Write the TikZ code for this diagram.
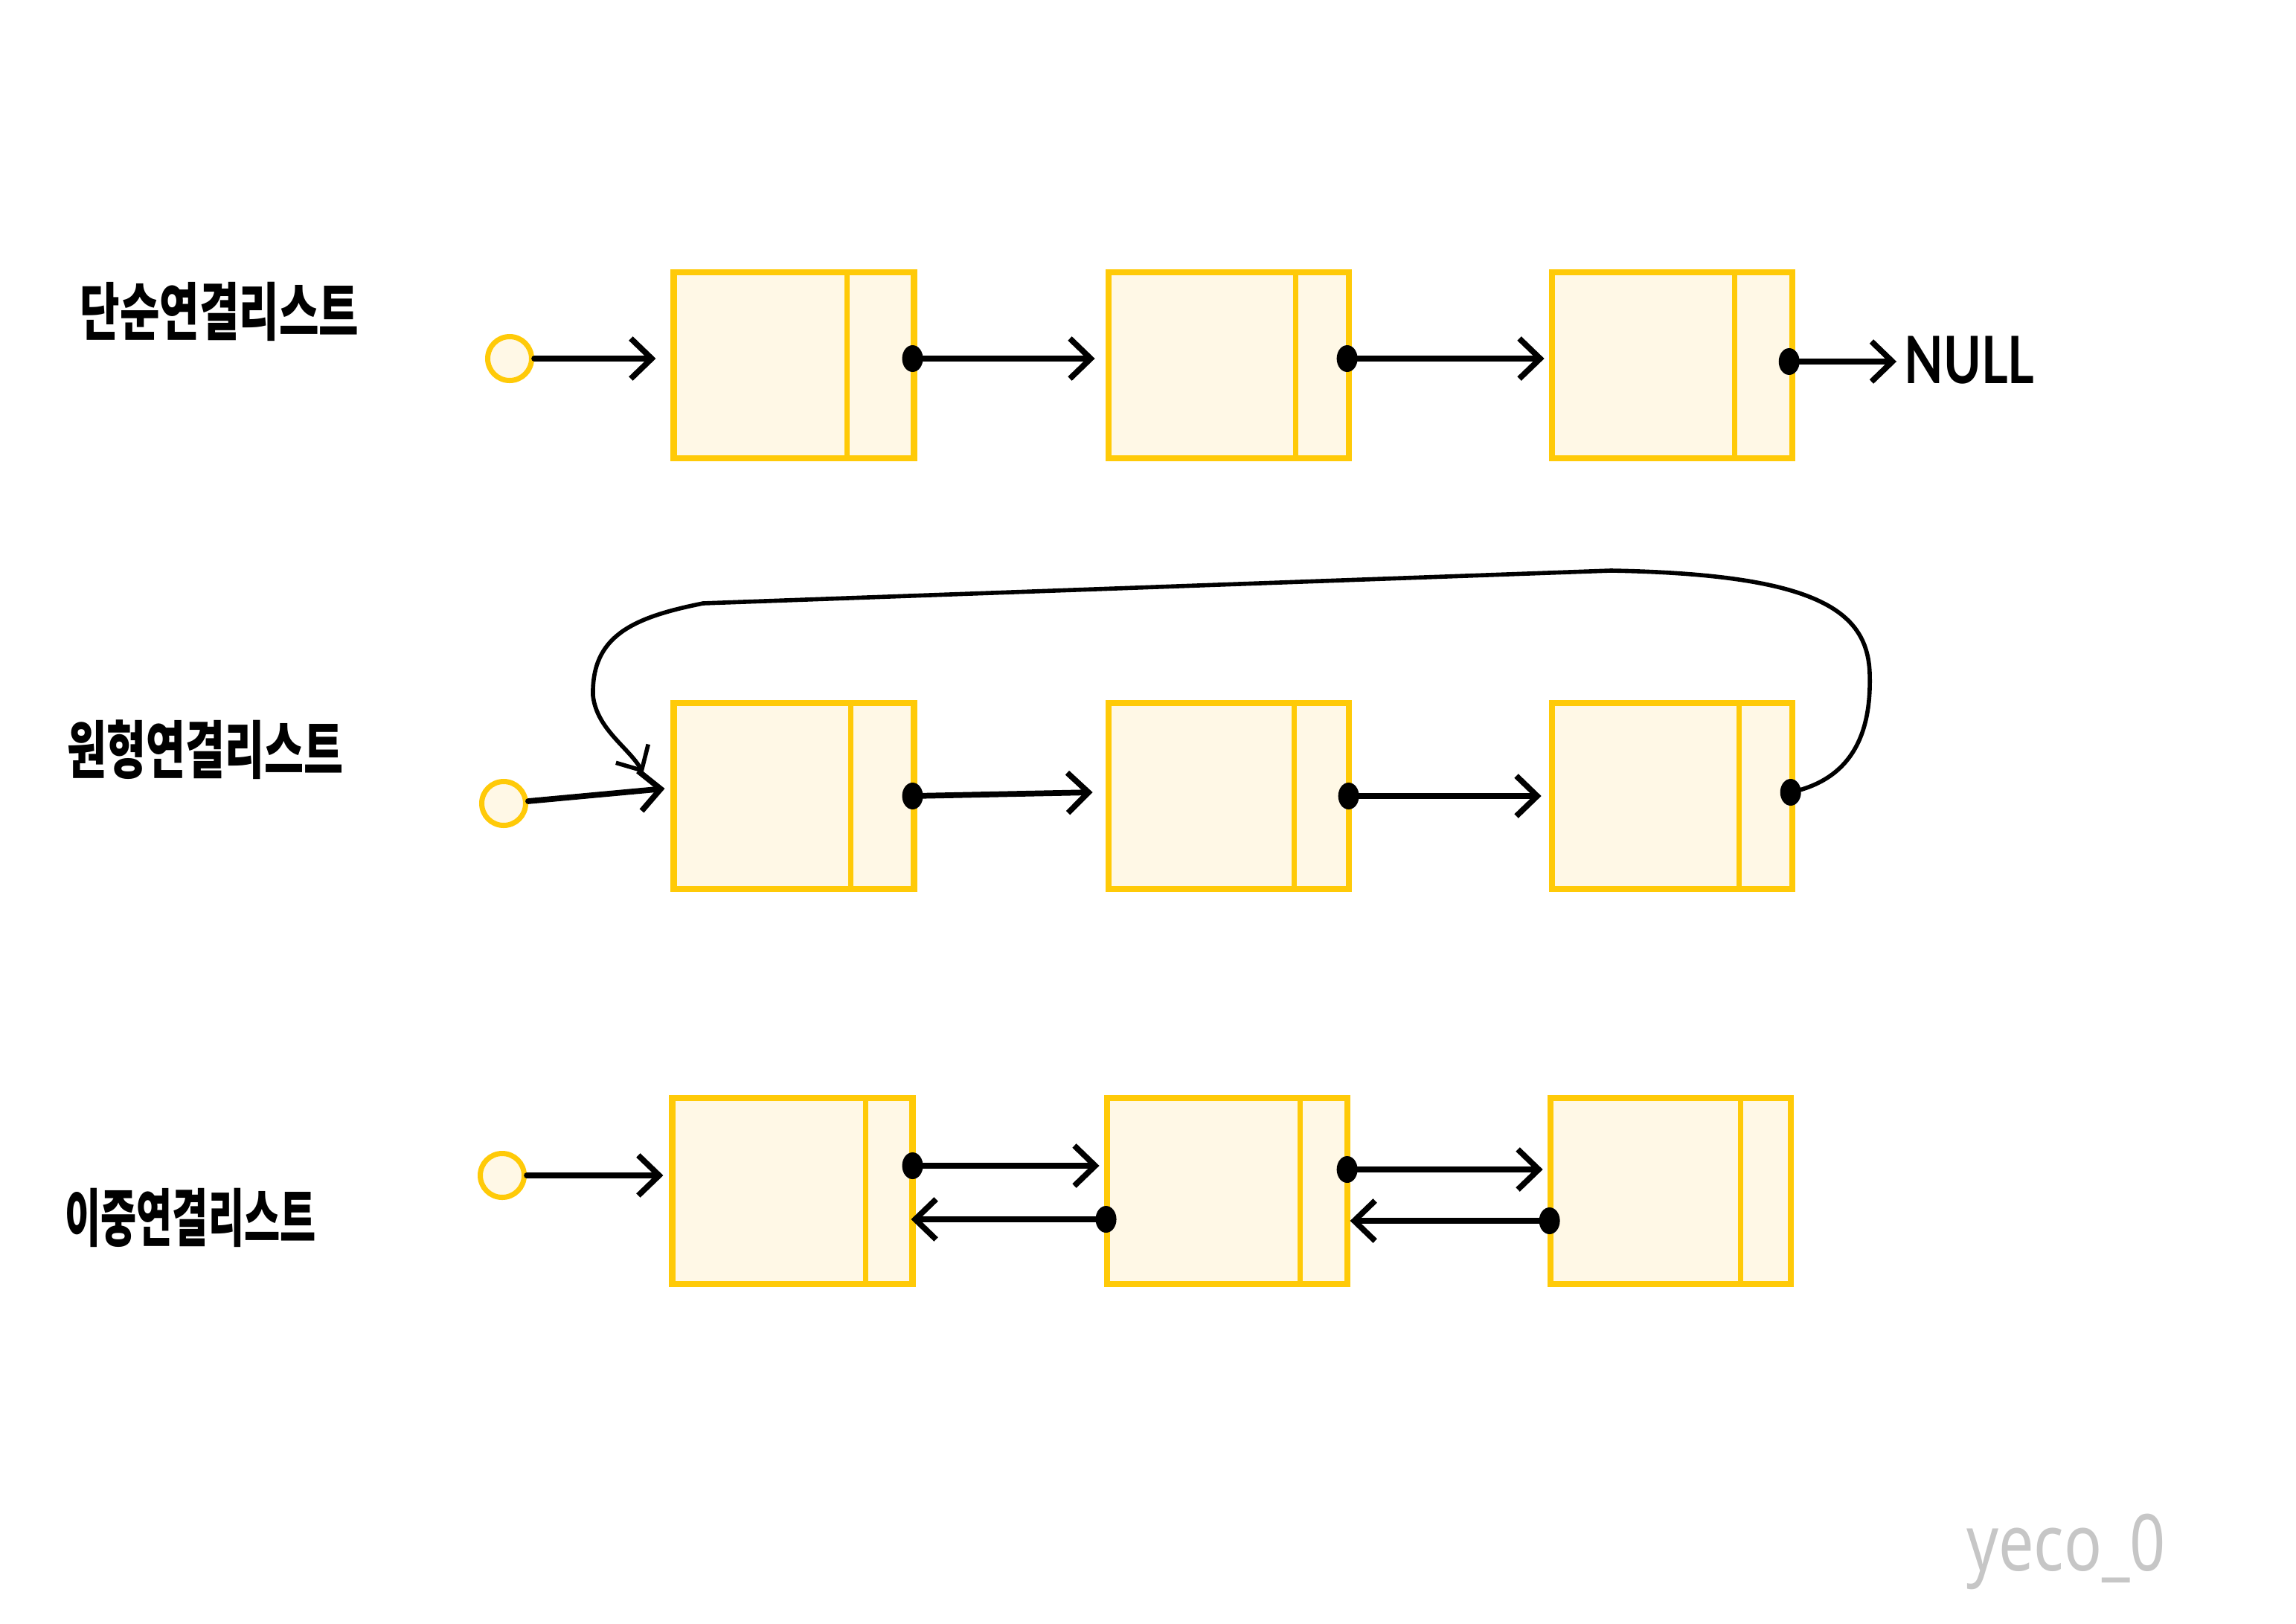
\documentclass[tikz,border=0pt]{standalone}
\usepackage{fontspec}
\newfontfamily\krfont{Noto Sans CJK KR}
\newfontfamily\hwfont{Noto Sans}
\newfontfamily\capsfont{Lato}
\usepackage{tikz}
\usetikzlibrary{positioning,arrows.meta,shapes.geometric}
\definecolor{nodeyellow}{HTML}{FFCA08}
\definecolor{nodefill}{HTML}{FFF8E6}
\definecolor{signgray}{HTML}{C6C6C6}

\begin{document}
\begin{tikzpicture}[
    box/.style={draw=nodeyellow, fill=nodefill, line width=2.3pt, inner sep=0pt,
                minimum width=3.23cm, minimum height=2.5cm},
    head/.style={circle, draw=nodeyellow, fill=nodefill, line width=2pt,
                 minimum size=0.59cm, inner sep=0pt},
    dot/.style={ellipse, fill=black, inner sep=0pt,
                minimum width=0.28cm, minimum height=0.36cm},
    divline/.style={draw=nodeyellow, line width=2.1pt},
    arr/.style={-{Straight Barb[length=2.8mm,width=5.4mm]}, line width=2.2pt, line cap=round},
    backarr/.style={-{Straight Barb[length=2.6mm,width=5mm]}, line width=1.6pt, line cap=round},
    title/.style={font=\krfont\bfseries\fontsize{24pt}{24pt}\selectfont, xscale=0.69, inner sep=0pt},
    nulltxt/.style={font=\capsfont\bfseries\fontsize{25pt}{25pt}\selectfont, xscale=0.78, inner sep=0pt},
    sign/.style={font=\hwfont\fontsize{30pt}{30pt}\selectfont, text=signgray, xscale=0.8, inner sep=0pt}
  ]
    \useasboundingbox (0,0) rectangle (30.86,-21.82);

    \node[title] (t1) at (2.95,-4.19) {단순연결리스트};
    \node[title, xscale=0.99] (t2) at (2.76,-10.08) {원형연결리스트};
    \node[title, xscale=0.9] (t3) at (2.56,-16.37) {이중연결리스트};

    \node[box] (b11) at (10.67,-4.91) {};
    \node[box, right=2.53cm of b11] (b12) {};
    \node[box, right=2.65cm of b12] (b13) {};
    \node[box] (b21) at (10.67,-10.70) {};
    \node[box, right=2.53cm of b21] (b22) {};
    \node[box, right=2.65cm of b22] (b23) {};
    \node[box] (b31) at (10.65,-16.01) {};
    \node[box, right=2.53cm of b31] (b32) {};
    \node[box, right=2.65cm of b32] (b33) {};

    \foreach \b/\w in {b11/0.94, b12/0.75, b13/0.81, b21/0.89, b22/0.77, b23/0.75,
                       b31/0.67, b32/0.67, b33/0.71}
      \draw[divline] ([xshift=-\w cm]\b.north east) -- ([xshift=-\w cm]\b.south east);

    \node[head] (c1) at (6.85,-4.82) {};
    \node[head] (c2) at (6.77,-10.80) {};
    \node[head] (c3) at (6.75,-15.80) {};

    \node[dot] (d11) at ([shift={(-0.06,0.09)}]b11.east) {};
    \node[dot] (d12) at ([shift={(-0.06,0.09)}]b12.east) {};
    \node[dot] (d13) at ([shift={(-0.08,0.05)}]b13.east) {};
    \node[dot] (d21) at ([xshift=-0.06cm]b21.east) {};
    \node[dot] (d22) at ([xshift=-0.04cm]b22.east) {};
    \node[dot] (d23) at ([shift={(-0.06,0.05)}]b23.east) {};
    \node[dot] (d31) at ([shift={(-0.04,0.34)}]b31.east) {};
    \node[dot] (d32) at ([shift={(-0.04,0.29)}]b32.east) {};
    \node[dot] (e32) at ([shift={(0.03,-0.38)}]b32.west) {};
    \node[dot] (e33) at ([shift={(0.03,-0.40)}]b33.west) {};

    \node[nulltxt, anchor=west] (null) at (25.59,-4.84) {NULL};
    \node[sign] (sig) at (27.77,-20.86) {yeco\_0};

    \draw[arr, shorten >=2mm] (c1) -- (b11.west |- c1);
    \draw[arr, shorten >=1.4mm] (d11.center) -- (b12.west |- d11);
    \draw[arr, shorten >=0.6mm] (d12.center) -- (b13.west |- d12);
    \draw[arr, shorten >=1mm] (d13.center) -- (null.west |- d13);

    \draw[arr] (c2) -- ([shift={(-0.08,0.1)}]b21.west);
    \draw[arr] (d21.center) -- ([shift={(-0.17,0.05)}]b22.west);
    \draw[arr] (d22.center) -- ([xshift=-0.1cm]b23.west);
    \coordinate (loopR) at (25.13,-9.05);
    \coordinate (loopTR) at (21.65,-7.67);
    \coordinate (loopTL) at (9.45,-8.11);
    \coordinate (loopL) at (7.97,-9.35);
    \draw[backarr] (d23.center) .. controls (25.0,-10.45) and (25.15,-9.7) .. (loopR)
      .. controls (25.1,-8.2) and (24.4,-7.72) .. (loopTR) -- (loopTL)
      .. controls (8.5,-8.3) and (7.95,-8.55) .. (loopL)
      .. controls (8.02,-9.8) and (8.45,-10.05) .. ([shift={(-0.37,0.31)}]b21.west);

    \draw[arr, shorten >=0.8mm] (c3) -- (b31.west |- c3);
    \draw[arr, shorten >=0.6mm] (d31.center) -- (b32.west |- d31);
    \draw[arr, shorten >=-0.6mm] (e32.center) -- (b31.east |- e32);
    \draw[arr, shorten >=0.6mm] (d32.center) -- (b33.west |- d32);
    \draw[arr] (e33.center) -- (b32.east |- e33);
\end{tikzpicture}
\end{document}
